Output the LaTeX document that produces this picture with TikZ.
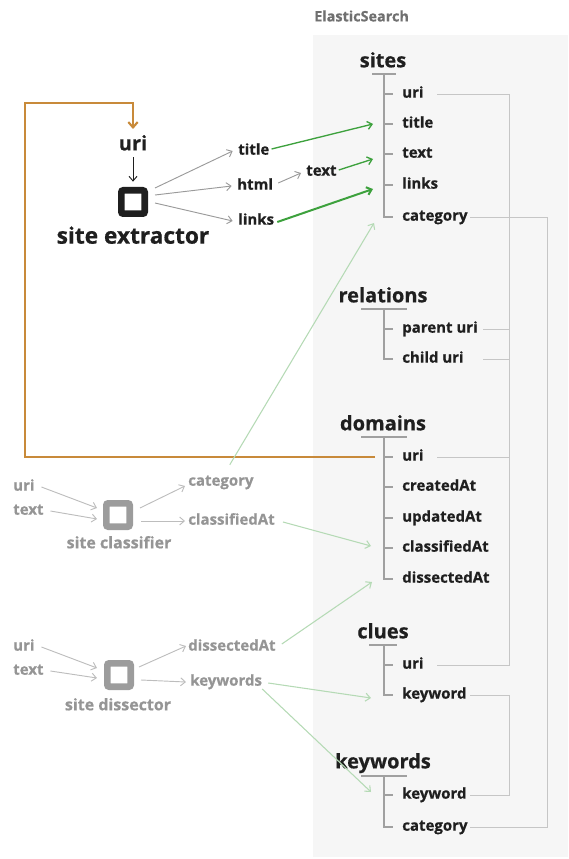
\documentclass[tikz,border=0pt]{standalone}
\usepackage{fontspec}
\setmainfont{Open Sans}[BoldFeatures={FakeBold=0.6}]
\usetikzlibrary{arrows.meta}
\definecolor{panel}{HTML}{F6F6F6}
\definecolor{ink}{HTML}{1F1F1F}
\definecolor{treeg}{HTML}{A0A0A0}
\definecolor{linkg}{HTML}{C6C6C6}
\definecolor{arrg}{HTML}{9A9A9A}
\definecolor{gtext}{HTML}{959595}
\definecolor{gbox}{HTML}{9C9C9C}
\definecolor{larrg}{HTML}{BDBDBD}
\definecolor{grn}{HTML}{3DA13D}
\definecolor{lgrn}{HTML}{B5DAB5}
\definecolor{orng}{HTML}{C88A3A}
\definecolor{estext}{HTML}{707070}
\tikzset{
  item/.style={anchor=west, inner sep=0pt, text height=8pt, text depth=2.5pt, font=\bfseries\fontsize{11.25}{12}\selectfont, text=ink},
  head/.style={inner sep=0pt, text height=11pt, text depth=3pt, font=\bfseries\fontsize{15}{16}\selectfont, text=ink},
  lbl/.style={anchor=west, inner sep=0pt, text height=8pt, text depth=2.5pt, font=\bfseries\fontsize{11.25}{12}\selectfont, text=ink},
  glbl/.style={lbl, text=gtext},
  biglbl/.style={inner sep=0pt, text height=12pt, text depth=3.5pt, font=\bfseries\fontsize{17}{18}\selectfont, text=ink},
  gbiglbl/.style={inner sep=0pt, text height=9pt, text depth=2.5pt, font=\bfseries\fontsize{12}{13}\selectfont, text=gtext},
  xbox/.style={draw=ink, line width=4.9pt, minimum size=17.6pt, inner sep=0pt, rounded corners=1.5pt},
  gxbox/.style={xbox, draw=gbox},
  tr/.style={draw=treeg, line width=0.9pt},
  link/.style={draw=linkg, line width=0.7pt},
  tip/.style={-{Straight Barb[length=3.5pt,width=6pt]}},
  darr/.style={tip, draw=arrg, line width=0.7pt},
  karr/.style={tip, draw=ink, line width=0.7pt},
  larr/.style={tip, draw=larrg, line width=0.7pt},
  garr/.style={tip, draw=grn, line width=1pt},
  garrb/.style={tip, draw=grn, line width=1.5pt},
  lgarr/.style={tip, draw=lgrn, line width=0.8pt},
  oline/.style={draw=orng, line width=1.6pt}
}
\begin{document}
\begin{tikzpicture}[x=0.75pt,y=-0.75pt]
\useasboundingbox (0,0) rectangle (568,859);
\fill[panel] (313,35) rectangle (568,857);
\node[inner sep=0pt, font=\bfseries\fontsize{10.8}{12}\selectfont, text=estext, anchor=west] (es) at (314,16) {ElasticSearch};

% headings
\node[head] (hs) at (383,62) {sites};
\node[head] (hr) at (383,297) {relations};
\node[head] (hd) at (383,425) {domains};
\node[head] (hc) at (383,633) {clues};
\node[head] (hk) at (383,763) {keywords};

% items
\node[item] (su) at (402,94) {uri};
\node[item] (st) at (402,124) {title};
\node[item] (sx) at (402,154) {text};
\node[item] (sl) at (402,185) {links};
\node[item] (sc) at (402,217) {category};
\node[item] (rp) at (402,329) {parent uri};
\node[item] (rc) at (402,359) {child uri};
\node[item] (du) at (402,457) {uri};
\node[item] (dc) at (402,487) {createdAt};
\node[item] (dup) at (402,518) {updatedAt};
\node[item] (dcl) at (402,548) {classifiedAt};
\node[item] (dd) at (402,579) {dissectedAt};
\node[item] (cu) at (402,665) {uri};
\node[item] (ck) at (402,695) {keyword};
\node[item] (kk) at (402,795) {keyword};
\node[item] (kc) at (402,827) {category};

% trees
\draw[tr] (372,74) -- (396,74);
\draw[tr] (384,74) -- (384,217) -- (393,217);
\foreach \y in {94,124,154,185} \draw[tr] (384,\y) -- (393,\y);
\draw[tr] (361,309) -- (407,309);
\draw[tr] (384,309) -- (384,359) -- (393,359);
\draw[tr] (384,329) -- (393,329);
\draw[tr] (361,437) -- (407,437);
\draw[tr] (384,437) -- (384,579) -- (393,579);
\foreach \y in {457,487,518,548} \draw[tr] (384,\y) -- (393,\y);
\draw[tr] (369,645) -- (397,645);
\draw[tr] (384,645) -- (384,695) -- (393,695);
\draw[tr] (384,665) -- (393,665);
\draw[tr] (361,776) -- (407,776);
\draw[tr] (384,776) -- (384,827) -- (393,827);
\draw[tr] (384,795) -- (393,795);

% right-hand links
\coordinate (suo) at (437,94);
\coordinate (rpo) at (483,329);
\coordinate (rco) at (483,359);
\coordinate (duo) at (437,457);
\coordinate (cuo) at (437,665);
\coordinate (cko) at (470,695);
\coordinate (kko) at (470,795);
\coordinate (sco) at (470,217);
\coordinate (kco) at (470,827);
\draw[link] (suo) -- (509,94) -- (509,665) -- (cuo);
\draw[link] (rpo) -- (509,329);
\draw[link] (rco) -- (509,359);
\draw[link] (duo) -- (509,457);
\draw[link] (cko) -- (509,695) -- (509,795) -- (kko);
\draw[link] (sco) -- (547,217) -- (547,827) -- (kco);

% site extractor
\node[xbox] (ex) at (133,202) {};
\node[biglbl] (exl) at (133,238) {site extractor};
\node[head] (xu) at (133,145) {uri};
\draw[karr] ([yshift=-2pt]xu.south) -- ([yshift=4pt]ex.north);
\node[lbl] (xt) at (238,151) {title};
\node[lbl] (xh) at (237,186) {html};
\node[lbl] (xl) at (238,221) {links};
\node[lbl] (xtx) at (306,172) {text};
\draw[darr] ([shift={(22,-14)}]ex.center) -- ([xshift=-4pt]xt.west);
\draw[darr] ([shift={(22,-7)}]ex.center) -- ([xshift=-4pt]xh.west);
\draw[darr] ([shift={(22,1)}]ex.center) -- ([xshift=-4pt]xl.west);
\draw[darr] ([shift={(5,-3)}]xh.east) -- ([shift={(-5,1)}]xtx.west);

% green arrows into sites
\coordinate (stin) at (373,124);
\coordinate (sxin) at (373,159);
\coordinate (slin) at (373,189);
\coordinate (scin) at (374,223);
\draw[garr] ([shift={(2,-2)}]xt.east) -- (stin);
\draw[garr] ([shift={(2,-2)}]xtx.east) -- (sxin);
\draw[garrb] ([shift={(3,1)}]xl.east) -- (slin);

% orange loop
\coordinate (ostart) at (375,457);
\coordinate (oc1) at (25,457);
\coordinate (oc2) at (25,103);
\coordinate (oc3) at (133,103);
\coordinate (oend) at (133,129);
\draw[oline, -{Straight Barb[length=4pt,width=7pt]}] (ostart) -- (oc1) -- (oc2) -- (oc3) -- (oend);

% site classifier
\node[gxbox] (cl) at (118,515) {};
\node[gbiglbl] (cll) at (119,544) {site classifier};
\node[glbl] (clu) at (13,487) {uri};
\node[glbl] (clt) at (13,511) {text};
\node[glbl] (clc) at (188,482) {category};
\node[glbl] (clca) at (188,521) {classifiedAt};
\draw[larr] ([xshift=5pt]clu.east) -- ([shift={(-21,-7)}]cl.center);
\draw[larr] ([xshift=5pt]clt.east) -- ([shift={(-21,4)}]cl.center);
\draw[larr] ([shift={(22,-7)}]cl.center) -- ([shift={(-3,4)}]clc.west);
\draw[larr] ([shift={(23,6)}]cl.center) -- ([shift={(-3,0)}]clca.west);
\coordinate (dclin) at (371,546);
\draw[lgarr] ([shift={(-24,-10)}]clc.north east) -- (scin);
\draw[lgarr] ([shift={(8,1)}]clca.east) -- (dclin);

% site dissector
\node[gxbox] (ds) at (119,675) {};
\node[gbiglbl] (dsl) at (118,706) {site dissector};
\node[glbl] (dsu) at (13,647) {uri};
\node[glbl] (dst) at (13,671) {text};
\node[glbl] (dsd) at (188,647) {dissectedAt};
\node[glbl] (dsk) at (190,682) {keywords};
\draw[larr] ([xshift=5pt]dsu.east) -- ([shift={(-22,-7)}]ds.center);
\draw[larr] ([xshift=5pt]dst.east) -- ([shift={(-22,3)}]ds.center);
\draw[larr] ([shift={(20,-8)}]ds.center) -- ([shift={(-2,-1)}]dsd.west);
\draw[larr] ([shift={(22,5)}]ds.center) -- ([shift={(-4,0)}]dsk.west);
\coordinate (ddin) at (372,582);
\coordinate (ckin) at (371,698);
\coordinate (kkin) at (371,792);
\draw[lgarr] ([shift={(6,-3)}]dsd.east) -- (ddin);
\draw[lgarr] ([shift={(6,1)}]dsk.east) -- (ckin);
\draw[lgarr] ([shift={(0,7)}]dsk.east) -- (kkin);
\end{tikzpicture}
\end{document}
